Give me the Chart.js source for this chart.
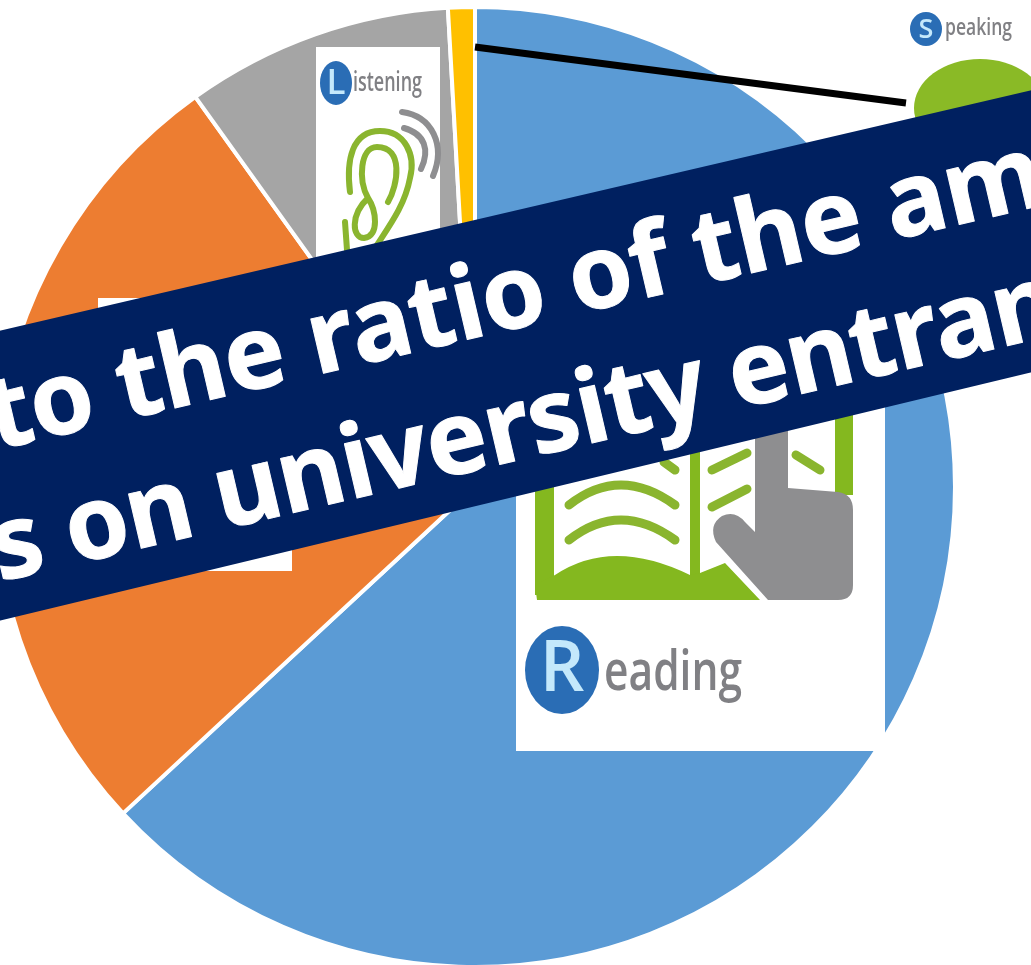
<!DOCTYPE html>
<html>
<head>
<meta charset="utf-8">
<title>Ratio of question types</title>
<script src="https://cdn.jsdelivr.net/npm/chart.js@4/dist/chart.umd.min.js"></script>
<style>
  html, body { margin: 0; padding: 0; background: #fff; overflow: hidden; }
  #wrap { position: relative; width: 1031px; height: 965px; overflow: hidden; }
  /* canvas is larger than the window because the pie runs off the left edge */
  #holder { position: absolute; left: -20px; top: -20px; width: 1071px; height: 1005px; }
</style>
</head>
<body>
<div id="wrap"><div id="holder"><canvas id="pie"></canvas></div></div>
<script>
const categories = ['Reading', 'Writing', 'Listening', 'Speaking'];
const shares = [63.1, 27, 9, 0.9];
const sliceColors = ['#5B9BD5', '#ED7D31', '#A5A5A5', '#FFC000'];
const bannerLines = ['to the ratio of the am', 's on university entran'];

const GREEN = '#8ab52f';
const GREY = '#8e8e90';
const BLUE = '#2a6db5';
const LABEL = '#808084';

function stroke(ctx, color, width, draw) {
  ctx.strokeStyle = color;
  ctx.lineWidth = width;
  ctx.lineCap = 'round';
  ctx.lineJoin = 'round';
  ctx.beginPath();
  draw();
  ctx.stroke();
}

// blue badge with the first letter, then the rest of the word squeezed in
function badge(ctx, cx, cy, rx, ry, letter, rest, textX, baseline, size, width) {
  ctx.fillStyle = BLUE;
  ctx.beginPath();
  ctx.ellipse(cx, cy, rx, ry, 0, 0, Math.PI * 2);
  ctx.fill();
  ctx.textAlign = 'center';
  ctx.textBaseline = 'middle';
  ctx.fillStyle = '#c4e8fb';
  ctx.font = '600 ' + Math.round(ry * 1.6) + 'px "Open Sans"';
  ctx.fillText(letter, cx, cy + 1, rx * 1.3);
  ctx.textAlign = 'left';
  ctx.textBaseline = 'alphabetic';
  ctx.fillStyle = LABEL;
  ctx.font = '600 ' + size + 'px "Open Sans"';
  ctx.fillText(rest, textX, baseline, width);
}

function drawListening(ctx) {
  ctx.fillStyle = '#fff';
  ctx.fillRect(316, 47, 124, 260);
  ctx.save();
  ctx.filter = 'blur(0.6px)';
  badge(ctx, 336, 83, 16, 22, 'L', 'istening', 353, 91, 27, 69);
  stroke(ctx, GREEN, 6, () => {
    ctx.moveTo(350, 192);
    ctx.bezierCurveTo(346, 160, 352, 131, 380, 131);
    ctx.bezierCurveTo(405, 131, 416, 155, 410, 178);
    ctx.bezierCurveTo(405, 205, 390, 225, 375, 248);
    ctx.moveTo(345, 222);
    ctx.lineTo(347, 250);
    ctx.moveTo(388, 202);
    ctx.bezierCurveTo(398, 185, 404, 147, 377, 147);
    ctx.bezierCurveTo(360, 147, 358, 180, 368, 198);
    ctx.bezierCurveTo(350, 215, 352, 238, 364, 238);
    ctx.bezierCurveTo(380, 236, 376, 210, 368, 198);
  });
  stroke(ctx, GREY, 6, () => {
    ctx.moveTo(402, 112);
    ctx.bezierCurveTo(432, 116, 446, 145, 433, 176);
    ctx.moveTo(404, 128);
    ctx.bezierCurveTo(425, 134, 430, 150, 421, 169);
  });
  ctx.restore();
}

function drawReading(ctx) {
  ctx.fillStyle = '#fff';
  ctx.fillRect(516, 340, 369, 411);
  ctx.fillRect(98, 298, 194, 273);

  ctx.save();
  ctx.filter = 'blur(0.7px)';
  // book
  ctx.fillStyle = '#84b81f';
  ctx.fillRect(535, 400, 19, 195);
  ctx.fillRect(835, 400, 18, 95);
  ctx.fillRect(690, 400, 10, 180);
  ctx.beginPath();
  ctx.moveTo(537, 600);
  ctx.lineTo(535, 585);
  ctx.lineTo(555, 575);
  ctx.quadraticCurveTo(612, 537, 690, 575);
  ctx.lineTo(700, 573);
  ctx.lineTo(725, 563);
  ctx.lineTo(760, 600);
  ctx.closePath();
  ctx.fill();
  stroke(ctx, GREEN, 9, () => {
    ctx.moveTo(569, 505);
    ctx.quadraticCurveTo(620, 465, 675, 505);
    ctx.moveTo(569, 540);
    ctx.quadraticCurveTo(620, 500, 675, 540);
    ctx.moveTo(712, 470);
    ctx.lineTo(747, 453);
    ctx.moveTo(712, 507);
    ctx.lineTo(747, 489);
    ctx.moveTo(796, 455);
    ctx.lineTo(820, 470);
    ctx.moveTo(664, 462);
    ctx.lineTo(675, 470);
  });

  // pointing hand
  ctx.fillStyle = GREY;
  ctx.beginPath();
  ctx.moveTo(755, 410);
  ctx.lineTo(788, 410);
  ctx.lineTo(788, 488);
  ctx.lineTo(838, 492);
  ctx.quadraticCurveTo(853, 494, 853, 510);
  ctx.lineTo(853, 585);
  ctx.quadraticCurveTo(853, 600, 838, 600);
  ctx.lineTo(768, 600);
  ctx.lineTo(716, 542);
  ctx.quadraticCurveTo(708, 525, 722, 516);
  ctx.quadraticCurveTo(735, 510, 745, 522);
  ctx.lineTo(755, 532);
  ctx.closePath();
  ctx.fill();

  badge(ctx, 562, 670, 37, 44, 'R', 'eading', 604, 690, 56, 138);
  ctx.restore();
}

function drawSpeaking(ctx) {
  ctx.save();
  ctx.filter = 'blur(0.5px)';
  badge(ctx, 926, 29, 16, 17, 'S', 'peaking', 945, 35, 24, 67);
  ctx.fillStyle = '#8aba26';
  ctx.beginPath();
  ctx.ellipse(980, 108, 66, 49, 0, 0, Math.PI * 2);
  ctx.fill();
  ctx.restore();
  stroke(ctx, '#000', 7, () => {
    ctx.lineCap = 'butt';
    ctx.moveTo(475, 47);
    ctx.lineTo(906, 103);
  });
}

function drawBanner(ctx) {
  ctx.fillStyle = '#002060';
  ctx.beginPath();
  ctx.moveTo(-10, 333);
  ctx.lineTo(1041, 88);
  ctx.lineTo(1041, 370);
  ctx.lineTo(-10, 623);
  ctx.closePath();
  ctx.fill();

  ctx.fillStyle = '#fff';
  ctx.strokeStyle = '#fff';
  ctx.lineWidth = 1;
  ctx.lineJoin = 'round';
  ctx.font = 'bold 102px "Noto Sans"';
  ctx.textAlign = 'left';
  ctx.textBaseline = 'alphabetic';
  ctx.save();
  ctx.translate(0, 449);
  ctx.rotate(-13.17 * Math.PI / 180);
  ctx.letterSpacing = '-0.4px';
  ctx.fillText(bannerLines[0], -5, 0);
  ctx.strokeText(bannerLines[0], -5, 0);
  ctx.letterSpacing = '-1px';
  ctx.fillText(bannerLines[1], -31, 129);
  ctx.strokeText(bannerLines[1], -31, 129);
  ctx.restore();
  ctx.letterSpacing = '0px';
}

const overlays = {
  id: 'overlays',
  afterDraw(chart) {
    const ctx = chart.ctx;
    ctx.save();
    ctx.translate(20, 20);
    drawListening(ctx);
    drawReading(ctx);
    drawSpeaking(ctx);
    drawBanner(ctx);
    ctx.restore();
  }
};

new Chart(document.getElementById('pie'), {
  type: 'pie',
  data: {
    labels: categories,
    datasets: [{
      data: shares,
      backgroundColor: sliceColors,
      borderColor: '#fff',
      borderWidth: 4
    }]
  },
  options: {
    responsive: true,
    maintainAspectRatio: false,
    animation: false,
    layout: { padding: { top: 25, left: 13, right: 94, bottom: 16 } },
    plugins: { legend: { display: false }, tooltip: { enabled: false } }
  },
  plugins: [overlays]
});
</script>
</body>
</html>
